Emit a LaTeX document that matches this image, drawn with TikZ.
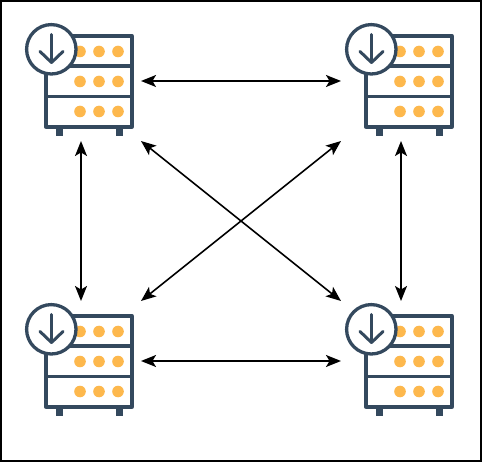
\documentclass[tikz,border=0pt]{standalone}
\usetikzlibrary{arrows.meta}
\definecolor{rackblue}{HTML}{34495E}
\definecolor{dotorange}{HTML}{FDB84D}
\tikzset{
  x=1pt,y=-1pt,
  frame/.style={draw=black,line width=2pt},
  hostbox/.style={minimum width=120pt,minimum height=120pt,inner sep=0pt,outer sep=0pt},
  link/.style={draw=black,line width=1.6pt,{Stealth[length=15pt,width=12pt,inset=3.5pt]}-{Stealth[length=15pt,width=12pt,inset=3.5pt]}},
  rackline/.style={draw=rackblue,line width=3.3pt,line join=round},
  rackdot/.style={fill=dotorange,draw=none},
}
\newcommand{\hosticon}[1]{%
  \begin{scope}[shift={(#1)}]
    \foreach \yy in {-29.5,0.5,30.5}
      \foreach \xx in {-1,18,37}
        \fill[rackdot] (\xx,\yy) circle (5.8);
    \draw[rackline] (-35,-45) rectangle (51,46);
    \draw[rackline] (-35,-15) -- (51,-15);
    \draw[rackline] (-35,15.5) -- (51,15.5);
    \fill[rackblue] (-25.5,46) rectangle (-18,55);
    \fill[rackblue] (34.5,46) rectangle (42,55);
    \draw[rackline,fill=white] (-29.7,-31.7) circle (24.7);
    \draw[rackline,line cap=round,line width=3pt] (-29.5,-46.5) -- (-29.5,-18.5);
    \draw[rackline,line cap=round,line width=3pt] (-41,-29.5) -- (-29.5,-18.5) -- (-18,-29.5);
  \end{scope}}
\begin{document}
\begin{tikzpicture}
  \useasboundingbox (0,0) rectangle (482,462);
  \fill[white] (0,0) rectangle (482,462);
  \draw[frame] (1,1) rectangle (481,461);
  \node[hostbox] (tl) at (81,81) {};
  \node[hostbox] (tr) at (401,81) {};
  \node[hostbox] (bl) at (81,361) {};
  \node[hostbox] (br) at (401,361) {};
  \hosticon{81,81}
  \hosticon{401,81}
  \hosticon{81,361}
  \hosticon{401,361}
  \draw[link] (tl.east) -- (tr.west);
  \draw[link] (bl.east) -- (br.west);
  \draw[link] (tl.south) -- (bl.north);
  \draw[link] (tr.south) -- (br.north);
  \draw[link] (tl.south east) -- (br.north west);
  \draw[link] (tr.south west) -- (bl.north east);
\end{tikzpicture}
\end{document}
